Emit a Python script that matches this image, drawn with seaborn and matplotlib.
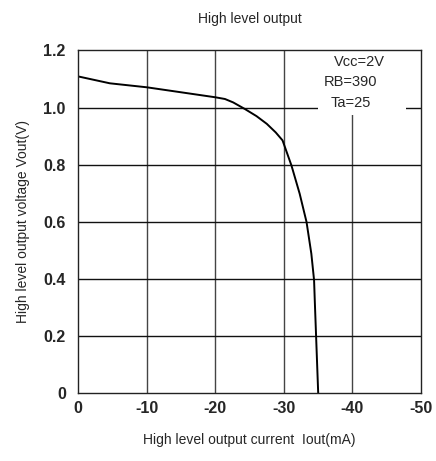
import matplotlib
matplotlib.use("Agg")
import matplotlib.pyplot as plt
import seaborn as sns
import pandas as pd
from matplotlib.patches import Rectangle

sns.set_style("white")
plt.rcParams['font.family'] = ['Liberation Sans', 'DejaVu Sans']

iout_ma = [0, -4.6, -10, -20, -21.4, -22.6, -24.3, -26.0, -27.5, -28.8, -29.8, -31.1, -32.3, -33.3, -34.0, -34.4, -34.5, -35.0]
vout_v = [1.109, 1.085, 1.071, 1.036, 1.030, 1.018, 0.995, 0.970, 0.943, 0.913, 0.885, 0.797, 0.698, 0.599, 0.488, 0.395, 0.325, 0.0]
x_ticks = [0, -10, -20, -30, -40, -50]
x_tick_labels = ["0", "-10", "-20", "-30", "-40", "-50"]
y_ticks = [0, 0.2, 0.4, 0.6, 0.8, 1.0, 1.2]
y_tick_labels = ["0", "0.2", "0.4", "0.6", "0.8", "1.0", "1.2"]
conditions = ["Vcc=2V", "RB=390", "Ta=25"]

df = pd.DataFrame({"Iout": iout_ma, "Vout": vout_v})

fig = plt.figure(figsize=(4.36, 4.61), dpi=100)
ax = fig.add_axes([0.1796, 0.1475, 0.7860, 0.7430])

for xv in x_ticks[1:-1]:
    ax.axvline(xv, color="#444444", lw=1.0, zorder=1)
for yv in y_ticks[1:-1]:
    ax.axhline(yv, color="#111111", lw=1.0, zorder=1)

# white box behind condition text
ax.add_patch(Rectangle((0.700, 0.812), 0.255, 0.188, transform=ax.transAxes,
                       facecolor="white", edgecolor="none", zorder=2))

sns.lineplot(data=df, x="Iout", y="Vout", ax=ax, color="black", lw=1.4,
             sort=False, estimator=None, zorder=3)

ax.set_xlim(0, -50)
ax.set_ylim(0, 1.2)
ax.set_xticks(x_ticks)
ax.set_xticklabels(x_tick_labels, fontsize=11.5, fontweight="bold")
ax.set_yticks(y_ticks)
ax.set_yticklabels(y_tick_labels, fontsize=11.5, fontweight="bold")
ax.tick_params(axis="x", length=0, pad=6)
ax.tick_params(axis="y", length=0, pad=9)
for s in ax.spines.values():
    s.set_color("#222222")
    s.set_linewidth(1.0)
    s.set_zorder(4)

ax.set_xlabel("High level output current  Iout(mA)", fontsize=10, labelpad=12)
ax.set_ylabel("High level output voltage Vout(V)", fontsize=10, labelpad=10)
ax.set_title("High level output", fontsize=10, pad=20)

ax.text(0.82, 0.965, conditions[0], transform=ax.transAxes, fontsize=10.5, ha="center", va="center", zorder=5)
ax.text(0.795, 0.907, conditions[1], transform=ax.transAxes, fontsize=10.5, ha="center", va="center", zorder=5)
ax.text(0.795, 0.848, conditions[2], transform=ax.transAxes, fontsize=10.5, ha="center", va="center", zorder=5)

fig.savefig("out.png", dpi=100)
